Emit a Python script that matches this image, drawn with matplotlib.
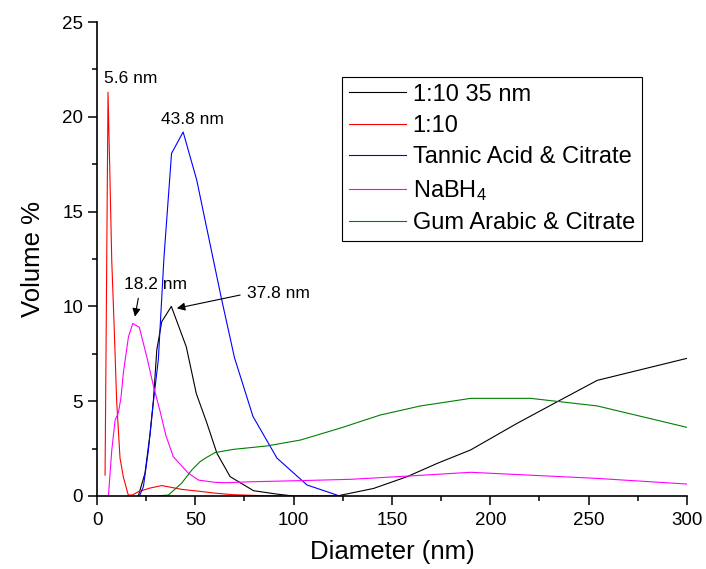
import matplotlib
matplotlib.use("Agg")
import matplotlib.pyplot as plt
from matplotlib.ticker import MultipleLocator

plt.rcParams['font.family'] = ['Liberation Sans', 'DejaVu Sans']
plt.rcParams['mathtext.default'] = 'regular'

# Size distributions (diameter in nm, volume %)
d_35nm = [21, 24.4, 27, 28.7, 30.4, 32.9, 37.8, 45.4, 50.5, 55.7, 61, 67.7, 79.6, 91.5, 100,
          122, 140.7, 157.7, 173, 190, 213.6, 234, 254.4, 300]
v_35nm = [0, 1.2, 3.3, 5.06, 7.7, 9.19, 10.0, 7.87, 5.4, 3.9, 2.25, 1.02, 0.28, 0.1, 0,
          0, 0.4, 1.02, 1.72, 2.43, 3.83, 4.97, 6.1, 7.26]

d_110 = [4.1, 5.6, 6.6, 7.5, 8.7, 10, 11.7, 13.4, 15.9, 18, 21, 27, 33, 43, 52, 60, 69, 80, 97]
v_110 = [1.1, 21.3, 16.7, 12.4, 9.0, 5.0, 2.0, 1.0, 0.05, 0.05, 0.23, 0.42, 0.55, 0.35,
         0.25, 0.15, 0.07, 0.03, 0.0]

d_tannic = [21.6, 23.6, 26.1, 28.7, 31.2, 34, 37.9, 43.8, 50.7, 63.1, 69.9, 79.3, 91.5, 106.8, 122]
v_tannic = [0, 0.5, 2.4, 5.0, 7.2, 12.5, 18.07, 19.2, 16.67, 10.5, 7.3, 4.2, 2.0, 0.58, 0.05]

d_nabh4 = [5.8, 7.5, 9.2, 10.9, 12.2, 13.4, 16, 18.2, 21.5, 25.3, 28.7, 32, 35, 38.8, 46.5,
           51.6, 60, 66, 78, 103, 129, 158, 190, 220, 254, 300]
v_nabh4 = [0, 2.4, 4.0, 4.4, 5.2, 6.5, 8.4, 9.1, 8.9, 7.35, 5.8, 4.5, 3.2, 2.07, 1.2,
           0.84, 0.72, 0.7, 0.75, 0.81, 0.88, 1.05, 1.25, 1.1, 0.93, 0.63]

d_gum = [21, 30, 36.3, 43, 48.2, 52.4, 55, 60, 69.4, 86.4, 103.4, 123.7, 144, 164.5, 190, 220.5, 254.4, 300]
v_gum = [0, 0, 0.05, 0.67, 1.37, 1.81, 1.99, 2.29, 2.46, 2.64, 2.95, 3.58, 4.27, 4.75, 5.15, 5.15, 4.75, 3.62]

fig = plt.figure(figsize=(7.06, 5.69), dpi=100)
ax = fig.add_axes([0.1374, 0.1283, 0.8356, 0.833])

lw = 0.8
ax.plot(d_35nm, v_35nm, color='black', lw=lw, label='1:10 35 nm')
ax.plot(d_110, v_110, color='#ff0000', lw=lw, label='1:10')
ax.plot(d_tannic, v_tannic, color='#0000ff', lw=lw, label='Tannic Acid & Citrate')
ax.plot(d_nabh4, v_nabh4, color='#ff00ff', lw=lw, label='NaBH$_4$')
ax.plot(d_gum, v_gum, color='#008000', lw=lw, label='Gum Arabic & Citrate')

# peak labels
ax.text(17.2, 22.0, '5.6 nm', fontsize=12.5, ha='center', va='center')
ax.text(48.6, 19.45, '43.8 nm', fontsize=12.5, ha='center', va='bottom')
arrow = dict(arrowstyle='-|>', color='black', lw=0.8, mutation_scale=12, shrinkA=0, shrinkB=0)
ax.annotate('18.2 nm', xy=(19.3, 9.46), xytext=(29.9, 11.17), fontsize=12.5,
            ha='center', va='center')
ax.annotate('', xy=(19.3, 9.46), xytext=(21.0, 10.43), arrowprops=arrow)
ax.annotate('37.8 nm', xy=(40.6, 9.9), xytext=(92.3, 10.69), fontsize=12.5,
            ha='center', va='center')
ax.annotate('', xy=(40.6, 9.9), xytext=(72.8, 10.6), arrowprops=arrow)

ax.set_xlim(0, 300)
ax.set_ylim(0, 25)
ax.xaxis.set_major_locator(MultipleLocator(50))
ax.xaxis.set_minor_locator(MultipleLocator(25))
ax.yaxis.set_major_locator(MultipleLocator(5))
ax.yaxis.set_minor_locator(MultipleLocator(2.5))
ax.tick_params(which='major', direction='out', length=6.5, width=1.1, labelsize=13.5)
ax.tick_params(axis='x', which='major', pad=5)
ax.tick_params(which='minor', direction='out', length=3.5, width=1.1)

for side in ['top', 'right']:
    ax.spines[side].set_visible(False)
for side in ['left', 'bottom']:
    ax.spines[side].set_linewidth(1.2)

ax.set_xlabel('Diameter (nm)', fontsize=18.5, labelpad=8)
ax.set_ylabel('Volume %', fontsize=18.5, labelpad=12)

leg = ax.legend(loc='upper left', bbox_to_anchor=(0.415, 0.885), fontsize=17,
                fancybox=False, framealpha=1, edgecolor='black', borderaxespad=0,
                handlelength=2.4, labelspacing=0.4, handletextpad=0.3, borderpad=0.3)
leg.get_frame().set_linewidth(0.8)

fig.savefig('out.png', dpi=100)
